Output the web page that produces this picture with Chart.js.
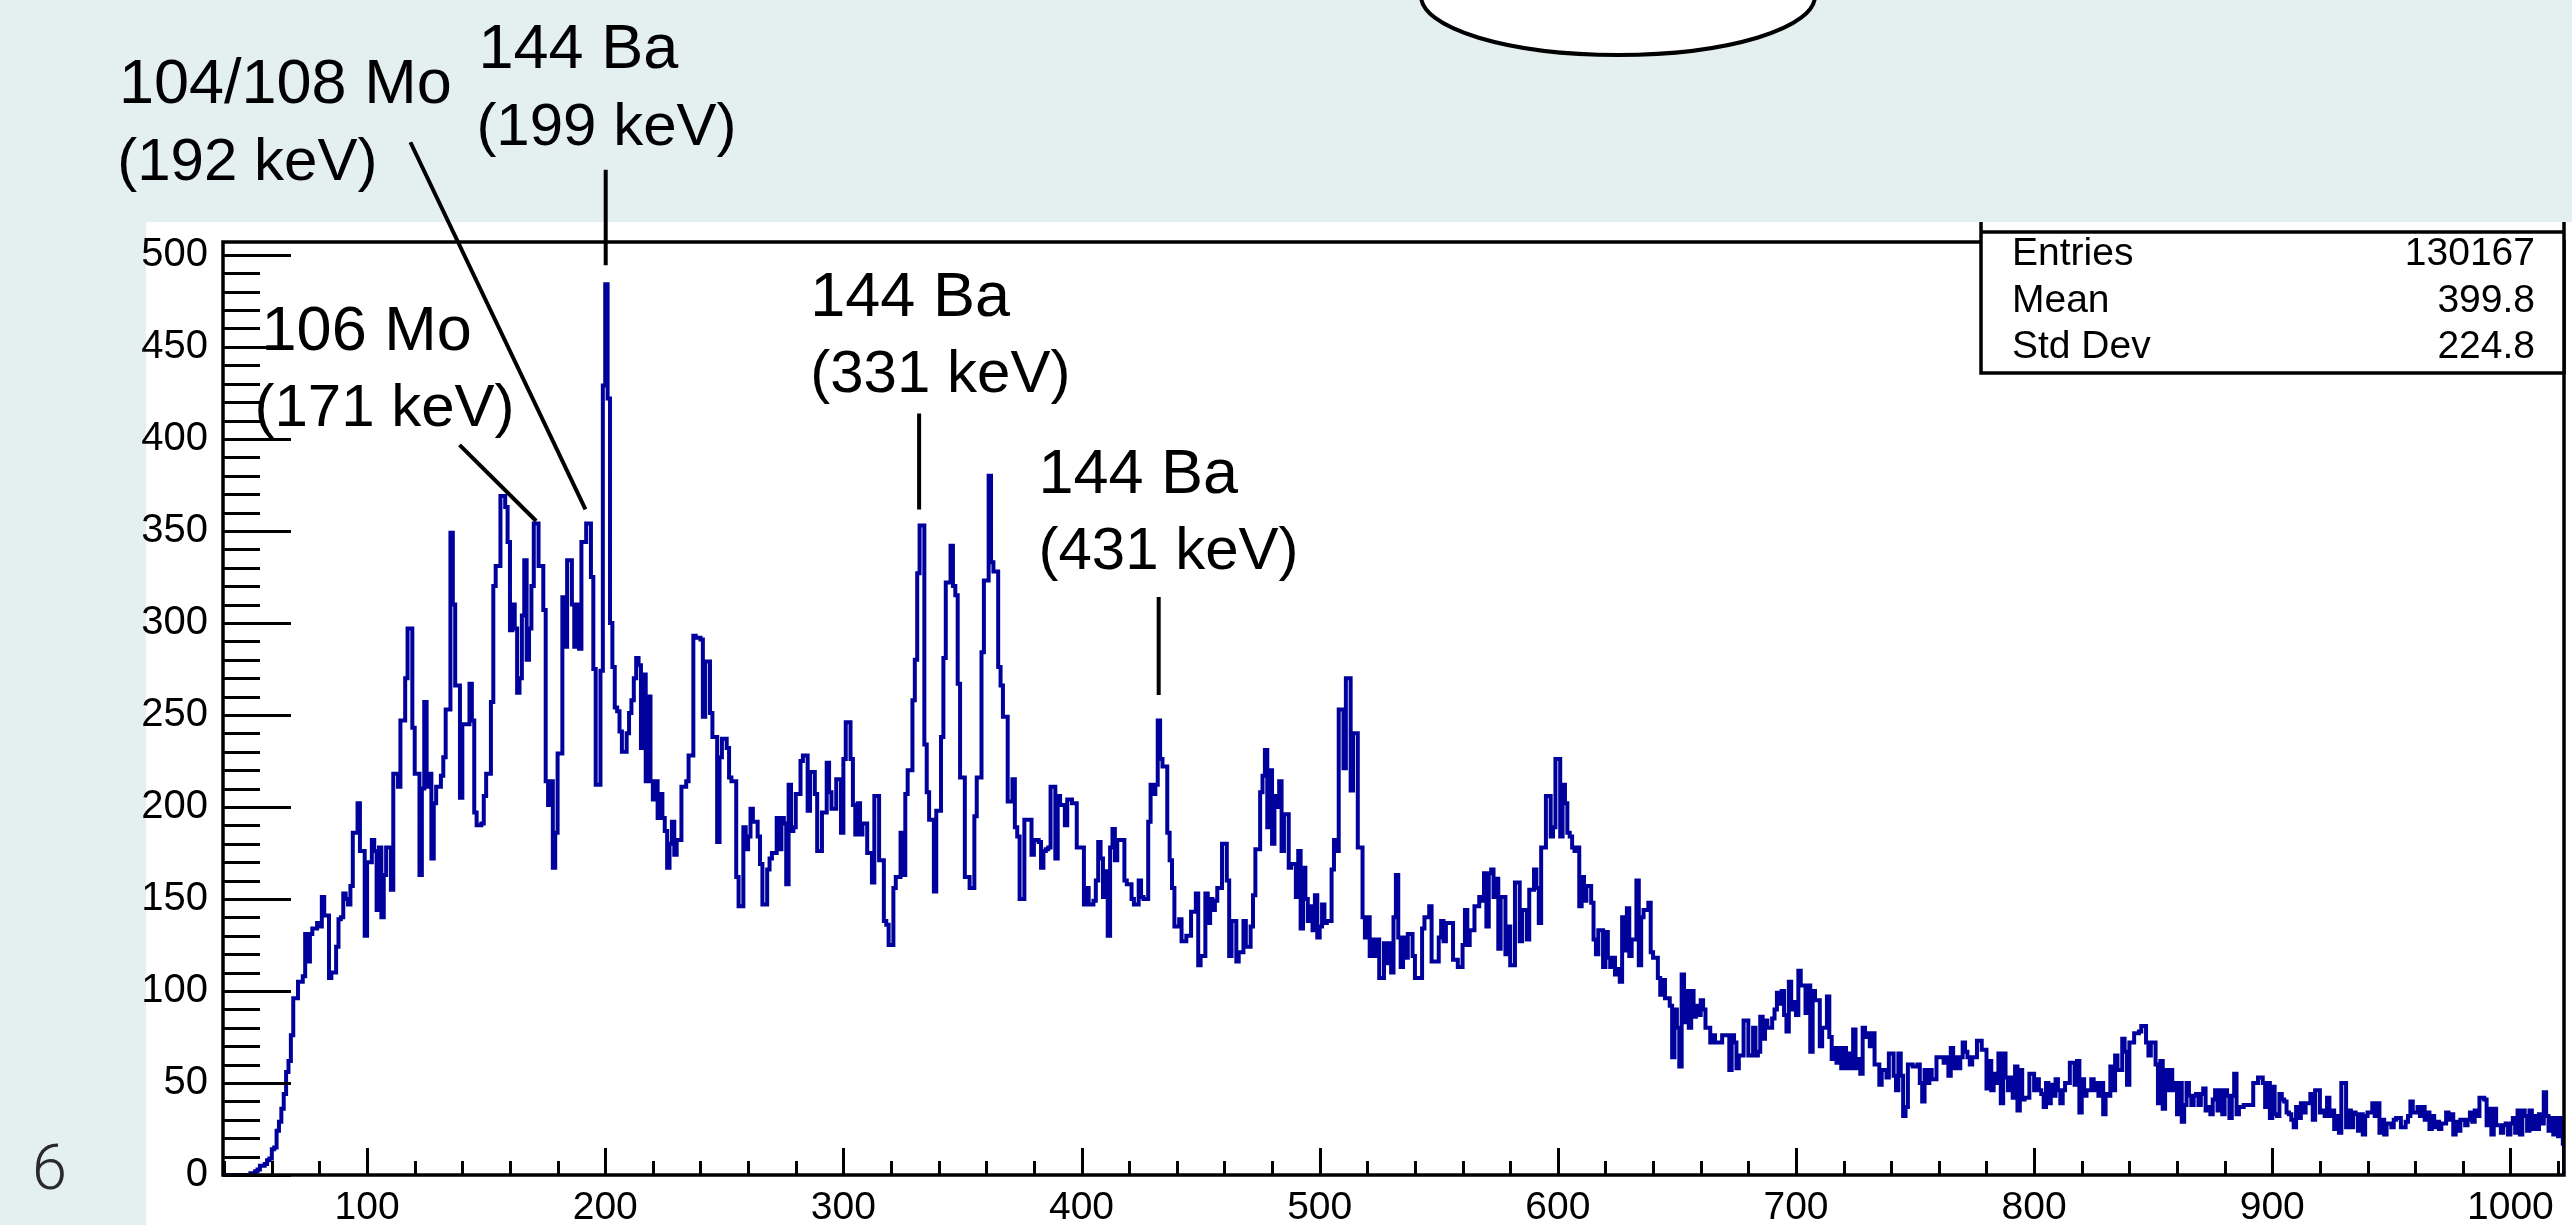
<!DOCTYPE html>
<html lang="en">
<head>
<meta charset="UTF-8">
<title>Energy spectrum</title>
<script src="https://cdn.jsdelivr.net/npm/chart.js@4"></script>
<style>
  html, body { margin: 0; padding: 0; background: #e4f0f0; overflow: hidden; }
  canvas { display: block; }
</style>
</head>
<body>
<canvas id="spectrum" width="2572" height="1225"></canvas>
<script>
// counts per 1 keV bin, first bin at 40 keV
const binStart = 40;
const counts040 = [0,0,0,0,0,0,0,0,0,0,0, 1,1,2,3,5,5,6,8,9,
  14,15,24,29,36,44,56,62,76,96, 96,105,105,108,131,116,131,134,134,137,
  135,151,141,141,107,110,110,124,139,140, 153,150,147,157,186,186,202,176,176,130];
const counts100 = [170,170,182,176,144,178,140,163,178,178,
  155,218,218,211,247,247,270,297,297,243, 218,218,163,210,257,211,218,172,202,211,
  211,217,227,253,253,349,310,266,266,205, 245,245,245,267,247,197,190,190,191,206,
  218,218,257,320,331,331,369,369,363,344, 296,310,297,262,270,304,334,280,297,320,
  354,354,331,331,307,214,201,214,167,186, 229,229,314,287,334,334,310,287,310,286,
  344,344,354,354,325,275,212,212,274,429];
const counts200 = [484,422,300,276,254,252,241,230,230,240,
  251,258,270,281,277,232,272,214,260,214, 204,214,194,207,194,187,167,180,192,174,
  182,182,211,211,214,228,228,293,292,292, 291,249,279,279,251,238,238,181,227,237,
  237,232,216,214,214,162,146,146,189,177, 184,199,192,192,184,169,147,147,166,172,
  175,175,194,177,194,191,158,212,187,189, 207,207,225,228,228,198,219,219,207,176,
  176,197,197,224,208,199,199,215,215,186];
const counts300 = [226,246,246,226,201,185,202,185,191,191,
  175,175,159,206,206,171,171,138,136,125, 125,156,162,162,186,163,207,220,220,258,
  280,327,353,353,234,208,193,193,154,198, 198,238,281,322,322,342,320,315,267,216,
  216,162,162,156,156,195,216,216,284,323, 323,380,333,328,328,276,266,249,249,203,
  203,215,189,184,150,150,193,193,193,174, 182,182,181,167,176,177,178,211,211,172,
  206,201,201,190,204,204,202,202,178,178];
const counts400 = [178,147,156,147,147,149,160,181,172,151,
  165,130,178,188,171,182,182,182,160,158, 158,150,147,147,160,151,150,150,192,212,
  207,212,247,226,222,222,186,171,156,135, 135,139,127,127,130,130,143,143,153,114,
  119,119,153,137,150,144,149,156,156,180, 180,160,119,138,138,116,121,121,138,124,
  124,135,152,177,177,208,217,231,189,220, 180,206,200,214,176,196,196,167,169,169,
  151,176,134,167,150,138,146,133,152,129];
const counts500 = [135,147,137,138,138,166,182,176,253,253,
  221,270,270,209,240,240,178,178,140,129, 140,119,128,119,128,107,107,126,115,126,
  110,140,163,129,113,129,118,131,131,119, 107,107,107,134,140,140,146,116,116,116,
  129,138,127,137,137,137,117,117,113,113, 125,144,125,133,133,146,146,151,149,164,
  135,164,166,151,161,123,151,151,120,135, 114,114,159,159,127,144,144,128,155,155,
  166,156,137,178,178,206,206,184,189,226];
const counts600 = [226,184,212,202,186,184,178,176,178,146,
  162,149,157,157,148,128,120,133,133,113, 132,118,113,118,109,112,105,140,122,145,
  119,128,128,160,114,140,144,144,148,121, 118,118,107,98,106,96,96,92,64,90,
  80,59,109,83,100,80,100,86,92,87, 95,90,80,80,72,76,72,72,72,76,
  76,76,57,76,72,58,65,65,84,84, 65,65,80,65,67,86,74,84,80,80,
  85,90,99,93,100,87,78,105,90,94];
const counts700 = [87,111,103,103,88,103,67,100,95,95,
  70,80,80,97,75,63,69,61,69,58, 69,58,66,58,79,58,63,55,80,75,
  77,70,77,60,60,49,57,57,53,66, 66,54,46,66,54,32,37,60,60,59,
  59,60,50,40,57,50,57,52,52,64, 64,64,61,64,54,69,58,64,58,64,
  72,67,64,60,64,64,73,73,68,68, 47,62,46,55,50,66,39,66,53,46,
  53,42,59,35,57,41,42,42,55,55];
const counts800 = [46,52,46,44,37,50,39,49,43,52,
  46,39,46,50,50,61,61,49,62,34, 52,43,46,46,52,46,50,43,50,33,
  44,43,59,46,65,57,57,74,67,49, 72,72,77,77,78,81,81,72,65,72,
  72,60,39,62,36,57,46,57,46,50, 33,50,29,38,50,43,38,43,44,38,
  44,47,35,37,33,41,46,35,46,33, 46,43,31,43,55,33,37,37,38,38,
  38,38,50,50,53,53,50,37,50,31];
const counts900 = [48,33,32,44,41,40,34,33,30,26,
  37,31,39,34,39,39,44,30,46,46, 34,35,32,42,32,35,25,32,23,50,
  50,26,35,26,34,33,24,33,22,32, 34,34,39,32,39,23,30,22,28,28,
  26,30,31,31,26,26,29,32,40,34, 34,37,32,37,30,34,25,32,26,29,
  25,28,28,34,30,33,22,29,24,30, 30,27,30,34,29,35,32,42,42,41,
  27,36,22,36,27,27,23,27,28,22];
const counts1000 = [28,31,23,35,22,35,32,24,35,25,
  32,25,33,28,45,32,24,31,22,31, 21,31,17];

const counts = [].concat(counts040, counts100, counts200, counts300, counts400,
  counts500, counts600, counts700, counts800, counts900, counts1000);

const xRange = [39.5, 1022.5];
const yRange = [0, 507];
const xTicks = [100, 200, 300, 400, 500, 600, 700, 800, 900, 1000];
const yTicks = [0, 50, 100, 150, 200, 250, 300, 350, 400, 450, 500];

const statsLabels = ['Entries', 'Mean', 'Std Dev'];
const statsValues = ['130167', '399.8', '224.8'];

// peak labels: two text lines, anchors in (keV, counts)
const peakText = [
  ['104/108 Mo', '(192 keV)'],
  ['144 Ba', '(199 keV)'],
  ['106 Mo', '(171 keV)'],
  ['144 Ba', '(331 keV)'],
  ['144 Ba', '(431 keV)']
];
const peakTextPos = [
  [-4.2, 582.7, -4.9, 540.8],
  [146.8, 601.5, 145.9, 559.8],
  [55.7, 448.4, 52.7, 407.1],
  [286.1, 467.0, 286.1, 425.6],
  [381.9, 370.6, 381.9, 329.3]
];
const peakPointers = [
  [118.2, 561.2, 191.7, 361.7],
  [200.2, 546.2, 200.2, 494.4],
  [138.8, 396.8, 171.0, 355.4],
  [331.8, 413.8, 331.8, 361.7],
  [432.4, 314.1, 432.4, 260.8]
];

const points = [{x: xRange[0], y: 0}];
counts.forEach((c, i) => points.push({x: binStart + i, y: c}));
points.push({x: xRange[1], y: counts[counts.length - 1]});
points.push({x: xRange[1], y: 0});

const FONT = '"Liberation Sans", Arial, Helvetica, sans-serif';

const slideBackground = {
  id: 'slideBackground',
  beforeDraw(chart) {
    const ctx = chart.ctx;
    ctx.save();
    ctx.fillStyle = '#e4f0f0';
    ctx.fillRect(0, 0, chart.width, chart.height);
    ctx.fillStyle = '#ffffff';
    ctx.fillRect(146, 222, chart.width - 146, chart.height - 222);

    ctx.beginPath();
    ctx.ellipse(1618, -4, 197, 59, 0, 0, Math.PI * 2);
    ctx.fillStyle = '#ffffff';
    ctx.fill();
    ctx.lineWidth = 4;
    ctx.strokeStyle = '#000';
    ctx.stroke();

    ctx.fillStyle = '#2a2a2a';
    ctx.font = '300 63px Roboto, ' + FONT;
    ctx.fillText('6', 32, 1189);
    ctx.restore();
  }
};

const rootFrame = {
  id: 'rootFrame',
  afterDraw(chart) {
    const {ctx, chartArea: a} = chart;
    const x = chart.scales.x, y = chart.scales.y;
    ctx.save();
    ctx.strokeStyle = '#000';
    ctx.lineWidth = 3.5;
    ctx.strokeRect(a.left, a.top, a.right - a.left, a.bottom - a.top);

    // ticks drawn inside the frame, ROOT style
    ctx.lineWidth = 3;
    ctx.beginPath();
    for (let v = 0; v <= 500; v += 10) {
      const py = Math.round(y.getPixelForValue(v)) + 0.5;
      const len = v % 50 === 0 ? 68 : 37;
      ctx.moveTo(a.left, py);
      ctx.lineTo(a.left + len, py);
    }
    for (let v = 40; v <= 1020; v += 20) {
      const px = Math.round(x.getPixelForValue(v)) + 0.5;
      const len = v % 100 === 0 ? 27 : 14;
      ctx.moveTo(px, a.bottom);
      ctx.lineTo(px, a.bottom - len);
    }
    ctx.stroke();

    // stats box
    ctx.lineWidth = 3.5;
    ctx.fillStyle = '#ffffff';
    ctx.fillRect(1981, 222, a.right - 1981, 151);
    ctx.beginPath();
    ctx.moveTo(1981, 222);
    ctx.lineTo(1981, 373);
    ctx.lineTo(a.right, 373);
    ctx.lineTo(a.right, 222);
    ctx.moveTo(1981, 232);
    ctx.lineTo(a.right, 232);
    ctx.stroke();
    ctx.fillStyle = '#000';
    ctx.font = '39px ' + FONT;
    statsLabels.forEach((s, i) => {
      const by = 265 + i * 46.5;
      ctx.textAlign = 'left';
      ctx.fillText(s, 2012, by);
      ctx.textAlign = 'right';
      ctx.fillText(statsValues[i], 2535, by);
    });

    // peak labels (name line, energy line) and pointers
    ctx.textAlign = 'left';
    peakText.forEach((lines, i) => {
      const p = peakTextPos[i];
      ctx.font = '63px ' + FONT;
      ctx.fillText(lines[0], x.getPixelForValue(p[0]), y.getPixelForValue(p[1]));
      ctx.font = '60px ' + FONT;
      ctx.fillText(lines[1], x.getPixelForValue(p[2]), y.getPixelForValue(p[3]));
    });
    ctx.lineWidth = 4;
    ctx.beginPath();
    peakPointers.forEach(l => {
      ctx.moveTo(x.getPixelForValue(l[0]), y.getPixelForValue(l[1]));
      ctx.lineTo(x.getPixelForValue(l[2]), y.getPixelForValue(l[3]));
    });
    ctx.stroke();
    ctx.restore();
  }
};

new Chart(document.getElementById('spectrum'), {
  type: 'line',
  data: {
    datasets: [{
      data: points,
      stepped: 'before',
      borderColor: '#00009c',
      borderWidth: 4,
      pointRadius: 0,
      fill: false,
      tension: 0
    }]
  },
  options: {
    responsive: false,
    animation: false,
    devicePixelRatio: 1,
    events: [],
    layout: { padding: { left: 123, top: 242, right: 8, bottom: 0 } },
    plugins: { legend: { display: false }, tooltip: { enabled: false } },
    scales: {
      x: {
        type: 'linear',
        min: xRange[0],
        max: xRange[1],
        afterFit: s => { s.height = 50; },
        afterBuildTicks: s => { s.ticks = xTicks.map(v => ({value: v})); },
        grid: { display: false },
        border: { display: false },
        ticks: { color: '#000', padding: 2, autoSkip: false, maxRotation: 0,
                 callback: v => String(v),
                 font: { family: FONT, size: 39 } }
      },
      y: {
        min: yRange[0],
        max: yRange[1],
        afterFit: s => { s.width = 100; },
        afterBuildTicks: s => { s.ticks = yTicks.map(v => ({value: v})); },
        grid: { display: false },
        border: { display: false },
        ticks: { color: '#000', padding: 7, callback: v => String(v),
                 font: { family: FONT, size: 40 } }
      }
    }
  },
  plugins: [slideBackground, rootFrame]
});
</script>
</body>
</html>
